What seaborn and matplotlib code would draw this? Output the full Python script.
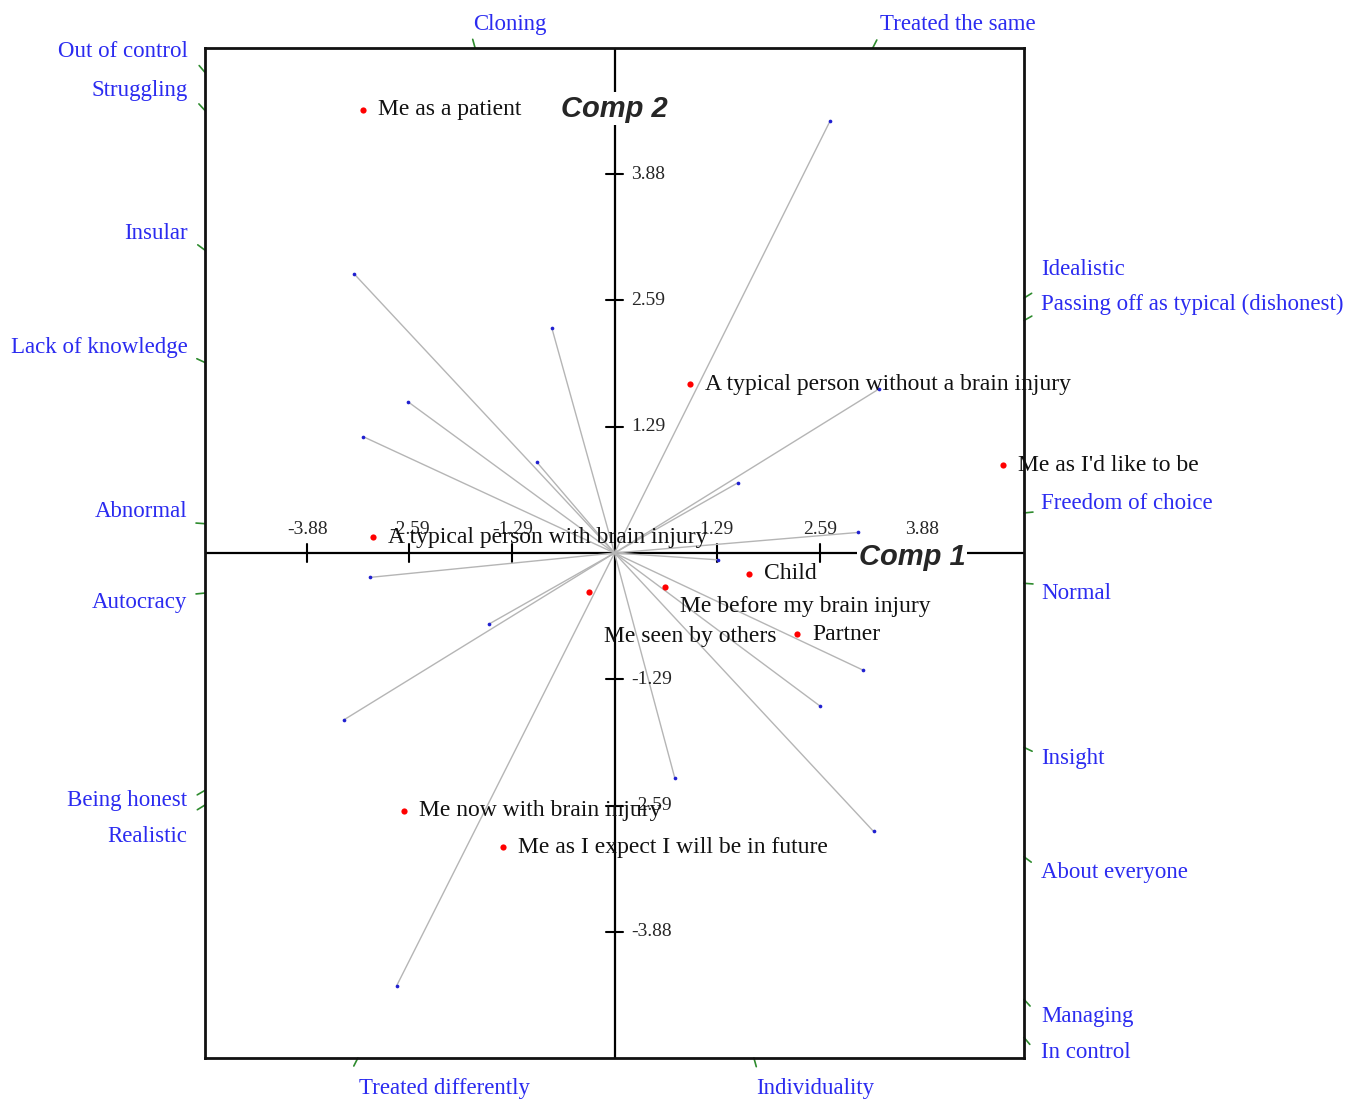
# Repertory grid biplot: elements and constructs on the first two components

import numpy as np
import matplotlib
matplotlib.use('Agg')
import matplotlib.pyplot as plt
import seaborn as sb

# Elements (red points)
element_names = ['Me as a patient', 'A typical person without a brain injury', "Me as I'd like to be",
                 'A typical person with brain injury', 'Child', 'Me before my brain injury',
                 'Me seen by others', 'Partner', 'Me now with brain injury',
                 'Me as I expect I will be in future']
element_x = [-3.18, 0.95, 4.91, -3.05, 1.70, 0.64, -0.32, 2.31, -2.66, -1.41]
element_y = [4.54, 1.73, 0.90, 0.16, -0.21, -0.35, -0.40, -0.83, -2.64, -3.01]

# Constructs (end points of the grey vectors)
construct_x = [2.72, -3.29, -0.79, -2.61, -3.17, -0.98, 1.56, 3.34, 3.07, 1.31,
               -3.09, -1.59, -3.42, 3.14, 2.60, 0.76, 3.27, -2.75]
construct_y = [4.42, 2.86, 2.30, 1.55, 1.19, 0.93, 0.72, 1.68, 0.21, -0.07,
               -0.25, -0.73, -1.71, -1.20, -1.57, -2.30, -2.85, -4.43]

# Construct poles written round the frame
left_poles = ['Out of control', 'Struggling', 'Insular', 'Lack of knowledge',
              'Abnormal', 'Autocracy', 'Being honest', 'Realistic']
right_poles = ['Idealistic', 'Passing off as typical (dishonest)', 'Freedom of choice', 'Normal',
               'Insight', 'About everyone', 'Managing', 'In control']
top_poles = ['Cloning', 'Treated the same']
bottom_poles = ['Treated differently', 'Individuality']

tick_values = [-3.88, -2.59, -1.29, 1.29, 2.59, 3.88]

# where the pole markers sit on the frame and where their text goes (data units)
left_tick_y = [4.92, 4.53, 3.10, 1.95, 0.30, -0.41, -2.43, -2.58]
left_text_y = [5.13, 4.74, 3.27, 2.10, 0.42, -0.51, -2.53, -2.90]
right_tick_y = [2.61, 2.38, 0.41, -0.31, -1.99, -3.11, -4.57, -4.96]
right_text_y = [2.90, 2.54, 0.51, -0.41, -2.10, -3.27, -4.75, -5.11]
top_tick_x = [-1.76, 3.26]
top_text_x = [-1.32, 4.33]
bottom_tick_x = [-3.24, 1.76]
bottom_text_x = [-2.14, 2.53]

LIM = 5.17
serif = 'Liberation Serif'
pole_color = '#2b2bf0'

sb.set_style('white')
fig = plt.figure(figsize=(13.68, 11.04), dpi=100)
ax = fig.add_axes([205 / 1368, 46 / 1104, 819 / 1368, 1010 / 1104])
ax.set_xlim(-LIM, LIM)
ax.set_ylim(-LIM, LIM)
ax.set_xticks([])
ax.set_yticks([])
for s in ax.spines.values():
    s.set_visible(True)
    s.set_color('#111111')
    s.set_linewidth(2)

# central axes
ax.axhline(0, color='black', lw=1.6, zorder=1)
ax.axvline(0, color='black', lw=1.6, zorder=1)
for t in tick_values:
    ax.plot([t, t], [-0.09, 0.09], color='black', lw=1.5, zorder=1)
    ax.plot([-0.11, 0.11], [t, t], color='black', lw=1.5, zorder=1)
    ax.text(t, 0.24, f'{t:.2f}', ha='center', va='center', fontsize=14, family=serif)
    ax.text(0.21, t, f'{t:.2f}', ha='left', va='center', fontsize=14, family=serif)

# construct vectors
for cx, cy in zip(construct_x, construct_y):
    ax.plot([0, cx], [0, cy], color='#b5b5b5', lw=1, zorder=2)
sb.scatterplot(x=construct_x, y=construct_y, color='#2020d0', s=7, linewidth=0, ax=ax, zorder=3)

# elements
sb.scatterplot(x=element_x, y=element_y, color='red', s=20, linewidth=0, ax=ax, zorder=4)
offsets = {'Me before my brain injury': (15, -19), 'Me seen by others': (15, -44)}
for name, ex, ey in zip(element_names, element_x, element_y):
    ax.annotate(name, (ex, ey), xytext=offsets.get(name, (15, 0)), textcoords='offset pixels',
                ha='left', va='center', fontsize=17, family=serif, color='#111111', zorder=5)

ax.text(0, 4.55, 'Comp 2', ha='center', va='center', fontsize=21, style='italic',
        weight='bold', family='Liberation Sans', zorder=6,
        bbox=dict(facecolor='white', edgecolor='none', pad=2))
ax.text(3.76, -0.04, 'Comp 1', ha='center', va='center', fontsize=21, style='italic',
        weight='bold', family='Liberation Sans', zorder=6,
        bbox=dict(facecolor='white', edgecolor='none', pad=1))

# pole markers: short green strokes pointing away from the origin
origin = ax.transData.transform((0, 0))
inv = ax.transData.inverted()


def pole_mark(x, y):
    p = ax.transData.transform((x, y))
    d = (p - origin) / np.linalg.norm(p - origin)
    q = inv.transform(p + 9 * d)
    ax.plot([x, q[0]], [y, q[1]], color='#2e8b2e', lw=1.2, clip_on=False)


for name, ty, sy in zip(left_poles, left_tick_y, left_text_y):
    pole_mark(-LIM, ty)
    ax.text(-5.39, sy, name, ha='right', va='center', fontsize=16.5, family=serif,
            color=pole_color, clip_on=False)
for name, ty, sy in zip(right_poles, right_tick_y, right_text_y):
    pole_mark(LIM, ty)
    ax.text(5.39, sy, name, ha='left', va='center', fontsize=16.5, family=serif,
            color=pole_color, clip_on=False)
for name, tx, sx in zip(top_poles, top_tick_x, top_text_x):
    pole_mark(tx, LIM)
    ax.text(sx, 5.41, name, ha='center', va='center', fontsize=16.5, family=serif,
            color=pole_color, clip_on=False)
for name, tx, sx in zip(bottom_poles, bottom_tick_x, bottom_text_x):
    pole_mark(tx, -LIM)
    ax.text(sx, -5.48, name, ha='center', va='center', fontsize=16.5, family=serif,
            color=pole_color, clip_on=False)

fig.savefig('out.png', dpi=100)
